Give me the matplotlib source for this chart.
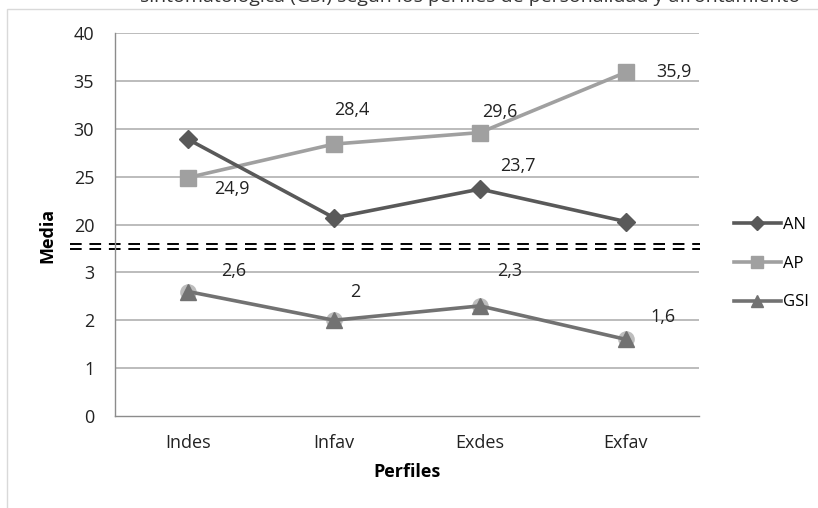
import matplotlib
matplotlib.use("Agg")
import matplotlib.pyplot as plt
from matplotlib.lines import Line2D
from matplotlib.patches import Rectangle

plt.rcParams['font.family'] = ['Open Sans', 'DejaVu Sans']

categories = ["Indes", "Infav", "Exdes", "Exfav"]
an_values = [28.9, 20.7, 23.7, 20.3]
ap_values = [24.9, 28.4, 29.6, 35.9]
gsi_values = [2.6, 2.0, 2.3, 1.6]
tick_values = [0, 1, 2, 3, 20, 25, 30, 35, 40]
tick_labels = ["0", "1", "2", "3", "20", "25", "30", "35", "40"]
ap_labels = ["24,9", "28,4", "29,6", "35,9"]
gsi_labels = ["2,6", "2", "2,3", "1,6"]
an_label_idx = 2
an_label = "23,7"

FS = 13


def pos(v):
    # broken axis: 0-3 linear, then 20-40 compressed (5 units per step)
    return v if v <= 3.5 else 4 + (v - 20) / 5.0


fig = plt.figure(figsize=(8.18, 5.08), dpi=100)
ax = fig.add_axes([115 / 818, 1 - 416 / 508, (699 - 115) / 818, (416 - 33) / 508])

# chart-area border
fig.add_artist(Rectangle((7 / 818, -0.05), 1.1, 1 - 9 / 508 + 0.05,
                         transform=fig.transFigure, fill=False,
                         edgecolor="#d9d9d9", linewidth=1.0))

# cut-off caption at the top
fig.text(140 / 818, 1 - 2 / 508,
         "sintomatológica (GSI) según los perfiles de personalidad y afrontamiento",
         ha="left", va="baseline", fontsize=14, color="#333333")

x = list(range(len(categories)))
ax.set_xlim(-0.5, len(categories) - 0.5)
ax.set_ylim(0, 8)

yt = [pos(v) for v in tick_values]
ax.set_yticks(yt)
ax.set_yticklabels(tick_labels, fontsize=FS, color="#222222")
ax.set_xticks(x)
ax.set_xticklabels(categories, fontsize=FS, color="#222222")
ax.tick_params(axis="y", length=0, pad=15)
ax.tick_params(axis="x", length=0, pad=13)

for p in yt[1:]:
    ax.axhline(p, color="#b0b0b0", linewidth=1.2, zorder=1)
for s in ["top", "right"]:
    ax.spines[s].set_visible(False)
for s in ["left", "bottom"]:
    ax.spines[s].set_color("#8c8c8c")
    ax.spines[s].set_linewidth(1.0)

an_c, ap_c, gsi_c = "#595959", "#a0a0a0", "#727272"
LW = 2.6

ax.plot(x, [pos(v) for v in an_values], color=an_c, linewidth=LW, marker="D",
        markersize=9, zorder=4, label="AN")
ax.plot(x, [pos(v) for v in ap_values], color=ap_c, linewidth=LW, marker="s",
        markersize=12, zorder=3, label="AP")
ax.plot(x, [pos(v) for v in gsi_values], color="none", marker="o",
        markersize=12, markerfacecolor="#bdbdbd", markeredgecolor="none", zorder=3)
ax.plot(x, [pos(v) for v in gsi_values], color=gsi_c, linewidth=LW, marker="^",
        markersize=12, zorder=4, label="GSI")

# data labels (offsets in pixels -> points)
k = 0.72
ap_off = [(44, -11), (18, 34), (20, 21), (48, 0)]
for i, (v, t) in enumerate(zip(ap_values, ap_labels)):
    ax.annotate(t, (x[i], pos(v)), xytext=(ap_off[i][0] * k, ap_off[i][1] * k),
                textcoords="offset points", ha="center", va="center",
                fontsize=FS, color="#222222")
gsi_off = [(46, 21), (21, 28), (30, 35), (37, 22)]
for i, (v, t) in enumerate(zip(gsi_values, gsi_labels)):
    ax.annotate(t, (x[i], pos(v)), xytext=(gsi_off[i][0] * k, gsi_off[i][1] * k),
                textcoords="offset points", ha="center", va="center",
                fontsize=FS, color="#222222")
ax.annotate(an_label, (x[an_label_idx], pos(an_values[an_label_idx])),
            xytext=(38 * k, 23 * k), textcoords="offset points",
            ha="center", va="center", fontsize=FS, color="#222222")

# break marks (double dashed line)
inv = fig.transFigure.inverted()
for yb in [3.60, 3.48]:
    yf = inv.transform(ax.transData.transform((0, yb)))[1]
    ax.add_artist(Line2D([70 / 818, 700 / 818], [yf, yf],
                         transform=fig.transFigure, color="black", linewidth=1.4,
                         linestyle=(0, (6, 4)), clip_on=False))

ax.set_ylabel("Media", fontsize=FS, fontweight="bold")
ax.yaxis.set_label_coords(-(115 - 56) / (699 - 115), (416 - 235) / (416 - 33))
ax.set_xlabel("Perfiles", fontsize=FS, fontweight="bold", labelpad=8)

leg = fig.legend(loc="upper left", bbox_to_anchor=(734 / 818, 1 - 217 / 508),
                 frameon=False, fontsize=12, handlelength=2.8, handletextpad=0.15,
                 labelspacing=1.36, borderaxespad=0, borderpad=0, markerscale=0.75)

fig.savefig("out.png", dpi=100)
